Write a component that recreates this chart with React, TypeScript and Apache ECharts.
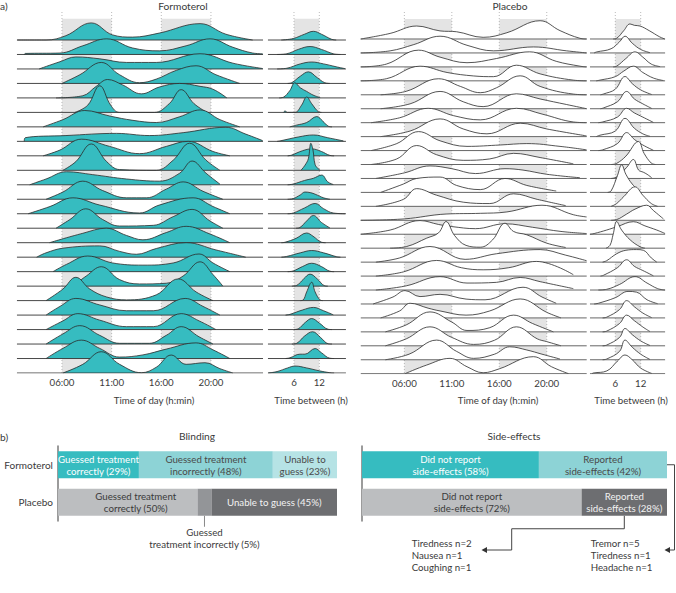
import React, { useEffect, useRef } from "react";
import * as echarts from "echarts";

// ---------- data ----------
const dayTicks = [6, 11, 16, 21];
const dayTickLabels = ["06:00", "11:00", "16:00", "20:00"];
const gapTicks = [6, 12];
const gapTickLabels = ["6", "12"];
const dayShade = [[6, 11], [16, 21]];
const gapShade = [[6, 12]];

// each row: [hour, density height (in row-spacing units)]
const formoterolDay: number[][][] = [
  [[1.5,0],[4.4,0],[6.4,0.3],[8.95,1.18],[11.1,0.35],[13.1,0.2],[15.8,0.48],[19.9,1.13],[22.5,0.4],[25.2,0]],
  [[2.2,0],[2.3,0.07],[5.8,0.1],[8.1,0.6],[10.5,1.08],[13.1,0.45],[15.8,0.25],[18.5,0.6],[20.9,1.08],[23.2,0.5],[25.2,0.1],[26.2,0.05]],
  [[3.7,0],[5.8,0.5],[7.4,0.83],[9.8,0.7],[12.5,0.45],[15.5,0.45],[19.9,1.05],[23.2,0.4],[26.2,0.03]],
  [[6.0,0],[7.8,0.6],[9.96,1.45],[11.8,0.6],[13.8,0.05],[15.5,0.3],[17.5,0.9],[19.5,1.22],[21.5,0.6],[23.9,0]],
  [[5.4,0],[8.1,0.15],[9.45,0.8],[10.6,1.27],[12.1,0.9],[14.0,0.28],[15.8,0.75],[17.85,1.0],[19.9,0.8],[21.2,0.6],[22.6,0]],
  [[7.3,0],[8.6,0.5],[9.8,1.84],[10.9,0.5],[11.8,0],[15.3,0],[16.8,0.6],[18.0,1.57],[19.3,0.6],[20.6,0]],
  [[4.1,0],[6.1,0.5],[8.3,1.13],[10.8,0.75],[13.15,0.45],[15.5,0.3],[17.85,0.7],[19.9,1.17],[21.9,0.5],[23.9,0]],
  [[2.2,0],[2.3,0.25],[6.4,0.4],[11.5,0.55],[14.8,0.4],[18.2,0.6],[22.5,0.97],[24.5,0.5],[26.2,0.05]],
  [[4.1,0],[5.8,0.4],[7.95,1.15],[10.8,0.65],[13.8,0.15],[16.5,0.65],[18.7,1.0],[21.2,0.3],[22.9,0]],
  [[6.1,0],[7.4,0.6],[8.95,1.82],[10.5,0.6],[11.8,0.05],[15.5,0],[17.2,0.7],[18.85,1.87],[20.5,0.7],[21.9,0]],
  [[2.75,0],[4.4,0.4],[6.45,0.9],[9.1,0.7],[12.5,0.4],[15.8,0.25],[17.85,0.8],[19.1,1.64],[20.5,0.8],[21.9,0.05]],
  [[4.4,0],[6.1,0.5],[8.1,1.25],[10.1,0.6],[12.5,0.1],[14.5,0.1],[16.5,0.7],[18.2,1.2],[20.2,0.55],[22.2,0]],
  [[2.6,0],[4.8,0.5],[7.1,1.1],[9.8,0.6],[13.8,0.05],[15.8,0.6],[19.2,1.1],[21.2,0.5],[22.9,0]],
  [[5.4,0],[6.8,0.6],[8.4,1.34],[10.1,0.6],[11.8,0.15],[15.2,0.2],[17.2,0.8],[19.1,1.3],[20.9,0.5],[22.2,0]],
  [[4.75,0],[8.1,0.65],[10.45,1.0],[12.5,0.5],[14.15,0.2],[16.5,0.7],[18.5,1.13],[20.9,0.6],[22.9,0]],
  [[3.45,0],[4.4,0.3],[6.1,0.62],[9.8,0.78],[11.8,0.4],[13.5,0.2],[15.5,0.6],[18.5,1.0],[21.5,0.5],[24.5,0]],
  [[5.1,0],[6.45,0.5],[8.6,1.08],[11.1,0.6],[14.15,0.45],[17.2,0.6],[19.8,1.22],[21.2,0.6],[22.9,0]],
  [[7.1,0],[8.45,0.7],[9.96,1.34],[11.8,0.45],[13.8,0.15],[16.5,0.2],[18.2,0.7],[19.9,1.68],[21.2,0.8],[22.2,0]],
  [[4.4,0],[6.1,0.8],[7.4,1.61],[8.8,0.8],[10.5,0.25],[12.5,0.05],[15.5,0.4],[17.7,1.5],[19.5,0.6],[21.2,0]],
  [[4.4,0],[5.8,0.6],[7.4,1.15],[9.8,0.7],[12.5,0.3],[15.2,0.3],[18.4,1.15],[20.2,0.6],[21.9,0]],
  [[4.4,0],[6.1,0.6],[7.6,1.1],[9.8,0.65],[12.5,0.2],[15.2,0.2],[18.0,1.1],[19.8,0.6],[21.5,0]],
  [[4.4,0],[6.1,0.7],[7.8,1.27],[9.8,0.6],[11.8,0.05],[14.8,0.05],[16.5,0.6],[18.0,1.2],[19.8,0.5],[21.2,0]],
  [[4.4,0],[6.1,0.7],[7.95,1.27],[9.8,0.7],[11.8,0.1],[14.15,0.25],[16.5,0.65],[19.5,1.08],[21.2,0.6],[22.9,0]],
  [[6.1,0],[8.1,0.6],[9.96,1.47],[11.8,0.6],[14.0,0.02],[15.5,0.4],[17.0,1.24],[18.5,0.6],[20.4,0.71],[21.9,0.3],[23.2,0]],
];

const formoterolGap: number[][][] = [
  [[3,0],[5.8,0.1],[8.5,0.4],[10.6,0.6],[12.5,0.4],[14.9,0.05],[16,0]],
  [[2,0],[4.3,0.05],[7,0.35],[9.8,0.55],[12.5,0.35],[15.3,0.05],[17,0]],
  [[2,0],[4.3,0.05],[7.5,0.35],[10.2,0.48],[13,0.35],[16,0.15],[18.1,0.02]],
  [[4.5,0],[5.45,0.05],[7.5,0.5],[9.4,0.8],[11.5,0.4],[13.3,0.05],[14.5,0]],
  [[2.5,0],[3.5,0.05],[5,0.5],[6.2,1.04],[7.5,0.7],[9.0,0.45],[10.5,0.2],[12.2,0.02]],
  [[3.5,0],[3.9,0.1],[4.4,0],[6.24,0],[7.8,0.5],[9.0,1.06],[10.2,0.6],[11.76,0.05],[12.5,0]],
  [[5,0],[6.6,0.12],[9,0.3],[11.4,0.71],[12.8,0.4],[14.1,0.05],[15,0]],
  [[2,0],[2.7,0.03],[7,0.3],[10.6,0.44],[14,0.25],[17.7,0.03]],
  [[4.5,0],[5.45,0.05],[8,0.35],[10.2,0.48],[12.5,0.3],[14.5,0.03],[15.5,0]],
  [[7.6,0],[7.8,0.05],[8.6,0.35],[9.4,0.8],[10.0,1.87],[10.5,1.4],[11.0,0.4],[11.76,0.1],[12.2,0]],
  [[4.5,0],[5.84,0.05],[8.5,0.3],[10.6,0.45],[12.55,0.67],[14.0,0.2],[15.3,0.02]],
  [[4.5,0],[5.84,0.05],[7.5,0.3],[8.6,0.5],[10,0.45],[11,0.35],[13,0.1],[14.5,0]],
  [[4.5,0],[5.84,0.05],[8.5,0.4],[11.0,0.71],[13,0.35],[15.3,0.05],[18.1,0]],
  [[6.5,0],[7.4,0.05],[9,0.5],[10.6,0.88],[12.5,0.4],[14.5,0.02]],
  [[3,0],[3.87,0.03],[6.5,0.3],[9.0,0.67],[10.5,0.45],[12.55,0.03],[13.5,0]],
  [[3,0],[4.26,0.05],[7.5,0.3],[10.2,0.46],[13,0.3],[16.1,0.03],[17,0]],
  [[4.5,0],[5.84,0.05],[8,0.35],[10.2,0.58],[12.5,0.35],[14.5,0.03],[15.5,0]],
  [[5.5,0],[6.63,0.05],[8.3,0.5],[9.8,0.83],[11.5,0.5],[13.3,0.02],[14,0]],
  [[7.5,0],[8.2,0.05],[9.0,0.6],[10.2,1.27],[11.0,0.6],[12.16,0.05],[12.8,0]],
  [[4,0],[5.05,0.05],[8,0.35],[10.6,0.53],[13,0.3],[15.3,0.02]],
  [[6,0],[7.0,0.05],[8.7,0.5],[10.2,0.76],[12,0.45],[14.1,0.02],[15,0]],
  [[5.5,0],[6.63,0.05],[8.5,0.55],[10.4,0.85],[12.3,0.45],[14.1,0.02],[15,0]],
  [[4,0],[5.05,0.05],[7.4,0.3],[8.6,0.3],[11.0,0.69],[12.5,0.4],[14.5,0.02],[15.5,0]],
  [[-0.1,0],[2,0.1],[4.5,0.35],[6.24,0.48],[9,0.35],[12,0.15],[14.5,0.02],[15.5,0]],
];

const placeboDay: number[][][] = [
  [[1.4,0],[4.5,0.4],[7.3,0.93],[9.76,0.58],[11.5,0.52],[14.3,0.12],[16.8,0.45],[20.3,1.31],[22.4,0.6],[24.5,0.05],[25.2,0]],
  [[1.4,0],[4.5,0.15],[7.0,0.6],[9.76,1.2],[12.6,0.55],[15.4,0.15],[19.6,0.43],[23.1,0.15],[25.2,0]],
  [[1.4,0],[4.1,0.2],[7.5,1.2],[9.76,0.7],[12.6,0.3],[15.7,0.6],[19.2,1.08],[22.0,0.4],[24.5,0.05],[25.2,0]],
  [[1.4,0],[4.1,0.15],[7.65,1.05],[10.5,0.6],[13.3,0.35],[15.4,0.3],[17.8,1.12],[20.3,0.5],[23.8,0.05],[25.2,0]],
  [[3.5,0],[6.2,0.25],[9.6,1.15],[11.9,0.6],[14.0,0.15],[15.7,0.5],[18.2,1.36],[20.3,0.6],[23.8,0.05],[25.2,0]],
  [[3.5,0],[6.6,0.35],[9.76,1.24],[12.2,0.5],[14.3,0.15],[17.8,1.07],[20.3,0.7],[23.1,0.3],[25.2,0]],
  [[2.5,0],[5.5,0.35],[8.5,1.03],[11.2,0.5],[14.0,0.2],[17.8,1.03],[20.6,0.6],[23.8,0.05],[25.2,0]],
  [[3.5,0],[6.6,0.4],[9.76,1.27],[12.2,0.55],[14.7,0.2],[18.2,0.96],[21.0,0.55],[25.2,0.05]],
  [[2.5,0],[5.2,0.5],[7.5,1.36],[9.76,0.7],[12.6,0.3],[16.1,0.4],[18.9,0.5],[22.4,0.3],[25.2,0.05]],
  [[2.5,0],[5.2,0.4],[7.3,1.36],[9.4,0.7],[12.2,0.3],[15.0,0.4],[17.5,0.8],[20.3,0.5],[23.8,0.05]],
  [[3,0],[6,0.4],[8.7,0.9],[11,0.7],[13.5,0.35],[16.6,0.7],[18.5,0.6],[21,0.3],[24.5,0.05]],
  [[3.5,0],[5.9,0.6],[7.3,1.0],[9.76,1.1],[11.5,0.5],[14.0,0.2],[16.6,1.0],[18.9,0.5],[22,0.1]],
  [[3,0],[5.9,0.5],[7.3,1.27],[9.4,0.8],[12.2,0.3],[15.0,0.2],[17.5,0.9],[20,0.5],[23,0.05]],
  [[1.4,0],[6,0.1],[10.4,0.45],[14,0.5],[16.8,0.6],[20.5,1.08],[23.8,0.4],[25.2,0.24]],
  [[1.4,0],[4.5,0.3],[7.65,0.98],[9.6,0.7],[11,0.55],[13.5,0.4],[16.6,0.75],[19.5,0.5],[22.5,0.2],[25.2,0.05]],
  [[4.5,0],[6.25,0.12],[8.35,0.72],[9.6,1.1],[10.39,1.91],[11.3,0.9],[12.5,0.2],[14.0,0.07],[15.3,0.6],[16.6,1.79],[17.5,1.2],[18.9,0.96],[21,0.36],[23,0.05]],
  [[3,0],[5.5,0.3],[8.7,1.12],[12.4,0.2],[15.7,0.6],[20.3,0.9],[23,0.5],[25.2,0.1]],
  [[3,0],[5.9,0.3],[9.4,1.12],[12,0.6],[14.3,0.45],[17,0.6],[19.9,1.05],[23.8,0.1]],
  [[3,0],[6.2,0.3],[9.76,0.96],[12.6,0.5],[15.7,0.55],[18.2,0.9],[20.3,0.6],[23.8,0.1]],
  [[2.7,0],[4.8,0.5],[6.07,0.96],[7.65,0.53],[9.76,0.69],[12.5,0.35],[14.5,0.3],[18.5,1.2],[20.5,0.5],[22,0.05]],
  [[3.5,0],[5.5,0.5],[6.6,1.05],[8.5,0.7],[9.76,0.5],[12.5,0.2],[15,0.5],[18.2,1.36],[21.0,0.4],[22.5,0]],
  [[4,0],[6.2,0.5],[8.7,1.43],[11,0.7],[12.6,0.1],[15,0.3],[17.5,1.2],[19.5,0.6],[21.7,0]],
  [[4,0],[6.2,0.5],[8.7,1.36],[11,0.6],[13.3,0.1],[15.5,0.4],[17.8,1.36],[20,0.5],[21.0,0.3],[22.5,0]],
  [[4,0],[6.5,0.4],[9.4,1.41],[11.5,0.6],[13.3,0.1],[15.5,0.4],[17.1,0.93],[18.9,0.7],[20.5,0.4],[22.4,0.05]],
  [[6.07,0],[8.35,0.62],[10.81,1.1],[12.6,0.5],[14.3,0.07],[16,0.35],[19.6,1.22],[21.5,0.5],[23.3,0]],
];

const placeboGap: number[][][] = [
  [[5.5,0],[6.32,0.05],[8,0.6],[9.47,1.08],[10.5,0.98],[11.84,0.93],[14,0.6],[16.5,0.15],[17.7,0]],
  [[1,0],[1.58,0.07],[5,0.3],[7,0.8],[8.29,1.2],[10,0.7],[12,0.25],[14.2,0.02]],
  [[5.5,0],[6.32,0.05],[8.5,0.6],[10.66,1.08],[12.5,0.7],[14.5,0.2],[16.58,0.02]],
  [[1.5,0],[2.37,0.05],[6,0.3],[8,0.7],[10.26,1.05],[12.5,0.6],[15,0.2],[17.37,0.02]],
  [[2.5,0],[3.16,0.05],[6,0.4],[8.29,1.31],[10,0.8],[12,0.35],[14.6,0.02]],
  [[2.5,0],[3.16,0.05],[6.5,0.5],[8.68,1.24],[10.5,0.7],[12.5,0.35],[14.6,0.02]],
  [[2,0],[3,0.05],[6.5,0.4],[8.68,1.03],[10.5,0.7],[12.5,0.4],[15,0.02]],
  [[1.5,0],[2.37,0.1],[6,0.4],[8.29,1.31],[10.5,0.6],[12.5,0.2],[14.2,0.02]],
  [[2,0],[3,0.05],[6.5,0.5],[8.68,1.29],[10.5,0.8],[12.5,0.4],[15,0.02]],
  [[5,0],[6.32,0.08],[8.5,0.6],[11.45,1.65],[12.8,0.8],[14.5,0.1],[15.5,0]],
  [[5,0],[6.32,0.1],[8.7,0.8],[10.26,1.36],[11.5,0.6],[12.6,0.45],[13.5,0.3],[14.6,0.05]],
  [[4.2,0],[5,0.1],[6.5,1.2],[7.5,1.98],[8.5,1.3],[10,0.6],[11.84,0.05]],
  [[5,0],[6.32,0.2],[8,0.7],[10.66,1.4],[12.5,0.8],[14.5,0.2],[16,0]],
  [[5,0],[6.32,0.05],[8.7,0.45],[10.66,0.8],[13.42,1.08],[15,0.7],[17.37,0.1]],
  [[0,0],[1,0.05],[3.95,0.3],[6.5,0.55],[10.26,0.9],[13,0.6],[15.8,0.3],[17.76,0.05]],
  [[3.8,0],[4.74,0.2],[5.5,1.0],[6.32,1.91],[7.5,1.3],[9.5,0.6],[11.84,0.1],[13,0]],
  [[3,0],[3.95,0.1],[6.32,0.6],[8.5,0.85],[11,0.9],[12.63,0.85],[14.5,0.3],[15.8,0]],
  [[2.5,0],[3.16,0.05],[6.5,0.6],[8.68,1.17],[10.5,0.7],[12.5,0.4],[15,0.02]],
  [[2,0],[3.95,0.05],[7,0.4],[10.66,0.96],[13.5,0.5],[16,0.1],[17.76,0]],
  [[1,0],[2,0.05],[6,0.45],[9,0.9],[11,0.85],[13.5,0.3],[16,0.02]],
  [[3,0],[3.95,0.05],[7,0.6],[8.68,1.24],[10.5,0.8],[12.5,0.35],[14.6,0.02]],
  [[3,0],[3.95,0.05],[7,0.6],[8.68,1.2],[10.5,0.8],[12.5,0.35],[14.2,0.02]],
  [[3,0],[3.95,0.05],[7,0.6],[8.29,1.24],[10,0.8],[12,0.35],[14.2,0.02]],
  [[3,0],[3.95,0.05],[7,0.6],[8.29,1.41],[10,0.9],[12,0.4],[14.2,0.02]],
  [[0.5,0],[0.8,0.05],[4,0.2],[6.5,0.9],[8.29,1.34],[10,1.0],[12,0.4],[14.6,0.02]],
];

const groups = ["Formoterol", "Placebo"];
const blindCorrect = [29, 50];
const blindIncorrect = [48, 5];
const blindUnable = [23, 45];
const sideNone = [58, 72];
const sideReported = [42, 28];
const formoterolEffects = ["Tremor n=5", "Tiredness n=1", "Headache n=1"];
const placeboEffects = ["Tiredness n=2", "Nausea n=1", "Coughing n=1"];

// ---------- styling ----------
const FONT = "Lato, 'Source Sans Pro', sans-serif";
const FS = 9.7;
const TEAL = "#36BCC0";
const TEAL_MID = "#8DD3D6";
const TEAL_LIGHT = "#B6E3E5";
const GREY_LIGHT = "#BCBEC0";
const GREY_MID = "#939598";
const GREY_DARK = "#6D6E71";
const TXT = "#3a3a3a";
const SHADE = "#e4e4e4";

const panels = [
  { rows: formoterolDay, fill: TEAL, base: "#333333", grid: { left: 12.3, top: 12, width: 253.3, height: 361 }, xMin: 1, xMax: 26.5, xInt: 5, yMax: 24.934, shadeTop: 24.47, span: [1.47, 26.24], shade: dayShade, ticks: dayTicks, labels: dayTickLabels },
  { rows: formoterolGap, fill: TEAL, base: "#333333", grid: { left: 243.3, top: 12, width: 126.7, height: 361 }, xMin: -6, xMax: 24, xInt: 6, yMax: 24.934, shadeTop: 24.47, span: [-0.16, 18.3], shade: gapShade, ticks: gapTicks, labels: gapTickLabels },
  { rows: placeboDay, fill: "#ffffff", base: "#555555", grid: { left: 356.9, top: 12, width: 237.3, height: 361.7 }, xMin: 1, xMax: 26, xInt: 5, yMax: 25.936, shadeTop: 25.43, span: [1.41, 25.21], shade: dayShade, ticks: dayTicks, labels: dayTickLabels },
  { rows: placeboGap, fill: "#ffffff", base: "#555555", grid: { left: 564.5, top: 12, width: 101.6, height: 361.7 }, xMin: -6, xMax: 18, xInt: 6, yMax: 25.936, shadeTop: 25.43, span: [0.02, 17.76], shade: gapShade, ticks: gapTicks, labels: gapTickLabels },
];

function buildOption() {
  const grid: any[] = [];
  const xAxis: any[] = [];
  const yAxis: any[] = [];
  const series: any[] = [];

  panels.forEach((p, pi) => {
    grid.push({ ...p.grid, containLabel: false });
    xAxis.push({
      type: "value", gridIndex: pi, min: p.xMin, max: p.xMax, interval: p.xInt,
      axisLine: { show: false }, axisTick: { show: false }, splitLine: { show: false },
      axisLabel: {
        margin: 4, fontSize: FS, fontFamily: FONT, color: TXT,
        formatter: (v: number) => { const i = p.ticks.indexOf(v); return i >= 0 ? p.labels[i] : ""; },
      },
    });
    yAxis.push({ type: "value", gridIndex: pi, min: 0, max: p.yMax, show: false, splitLine: { show: false } });

    series.push({
      type: "custom", xAxisIndex: pi, yAxisIndex: pi, z: 1, silent: true, clip: false,
      data: p.shade,
      renderItem: (params: any, api: any) => {
        const a = api.value(0), b = api.value(1);
        const tl = api.coord([a, p.shadeTop]);
        const br = api.coord([b, 0]);
        const topA = api.coord([a, p.yMax]);
        return {
          type: "group",
          children: [
            { type: "rect", shape: { x: tl[0], y: tl[1], width: br[0] - tl[0], height: br[1] - tl[1] }, style: { fill: SHADE } },
            { type: "line", shape: { x1: tl[0], y1: topA[1], x2: tl[0], y2: br[1] }, style: { stroke: "#a8a8a8", lineWidth: 0.8, lineDash: [1, 2] } },
            { type: "line", shape: { x1: br[0], y1: topA[1], x2: br[0], y2: br[1] }, style: { stroke: "#a8a8a8", lineWidth: 0.8, lineDash: [1, 2] } },
          ],
        };
      },
    });

    const n = p.rows.length;
    p.rows.forEach((row, k) => {
      const base = n - 1 - k;
      series.push({
        type: "line", xAxisIndex: pi, yAxisIndex: pi, z: 10 + k, silent: true,
        symbol: "none", smooth: 0.4,
        data: row.map(([x, h]) => [x, base + h]),
        lineStyle: { color: "#2a2a2a", width: 0.8 },
        areaStyle: { color: p.fill, opacity: 1, origin: base },
      });
      series.push({
        type: "line", xAxisIndex: pi, yAxisIndex: pi, z: 10 + k, silent: true,
        symbol: "none", data: [[p.span[0], base], [p.span[1], base]],
        lineStyle: { color: p.base, width: 0.9 },
      });
    });
  });

  // bar grids
  const barGrids = [
    { left: 58, top: 446, width: 279, height: 75, labels: true },
    { left: 362, top: 446, width: 305, height: 75, labels: false },
  ];
  barGrids.forEach((g, j) => {
    const gi = panels.length + j;
    grid.push({ left: g.left, top: g.top, width: g.width, height: g.height });
    xAxis.push({ type: "value", gridIndex: gi, min: 0, max: 100, show: false });
    yAxis.push({
      type: "category", gridIndex: gi, data: groups, inverse: true,
      axisLine: { show: true, lineStyle: { color: "#7a7a7a", width: 1.5 } },
      axisTick: { show: false },
      axisLabel: { show: g.labels, margin: 5, fontSize: FS + 0.3, fontFamily: FONT, color: TXT },
    });
  });

  const lbl = (text: string, color: string, show = true) => ({
    show, position: "inside", formatter: text, color, fontSize: FS, lineHeight: 11.8, fontFamily: FONT,
  });
  const bar = (gi: number, items: any[]) => ({
    type: "bar", xAxisIndex: gi, yAxisIndex: gi, stack: "s" + gi, barWidth: 27, silent: true, data: items,
  });
  const bi = panels.length, si = panels.length + 1;
  series.push(bar(bi, [
    { value: blindCorrect[0], itemStyle: { color: TEAL }, label: lbl(`Guessed treatment\ncorrectly (${blindCorrect[0]}%)`, "#ffffff") },
    { value: blindCorrect[1], itemStyle: { color: GREY_LIGHT }, label: { ...lbl(`Guessed treatment\ncorrectly (${blindCorrect[1]}%)`, TXT), offset: [8, 0] } },
  ]));
  series.push(bar(bi, [
    { value: blindIncorrect[0], itemStyle: { color: TEAL_MID }, label: lbl(`Guessed treatment\nincorrectly (${blindIncorrect[0]}%)`, "#4a4a4a") },
    { value: blindIncorrect[1], itemStyle: { color: GREY_MID }, label: lbl("", TXT, false) },
  ]));
  series.push(bar(bi, [
    { value: blindUnable[0], itemStyle: { color: TEAL_LIGHT }, label: lbl(`Unable to\nguess (${blindUnable[0]}%)`, "#4a4a4a") },
    { value: blindUnable[1], itemStyle: { color: GREY_DARK }, label: lbl(`Unable to guess (${blindUnable[1]}%)`, "#f2f2f2") },
  ]));
  series.push(bar(si, [
    { value: sideNone[0], itemStyle: { color: TEAL }, label: lbl(`Did not report\nside-effects (${sideNone[0]}%)`, "#ffffff") },
    { value: sideNone[1], itemStyle: { color: GREY_LIGHT }, label: lbl(`Did not report\nside-effects (${sideNone[1]}%)`, TXT) },
  ]));
  series.push(bar(si, [
    { value: sideReported[0], itemStyle: { color: TEAL_MID }, label: lbl(`Reported\nside-effects (${sideReported[0]}%)`, "#4a4a4a") },
    { value: sideReported[1], itemStyle: { color: GREY_DARK }, label: lbl(`Reported\nside-effects (${sideReported[1]}%)`, "#f2f2f2") },
  ]));

  return { animation: false, backgroundColor: "#ffffff", grid, xAxis, yAxis, series };
}

function text(x: number, y: number, t: string, align = "center", size = FS, color = TXT) {
  return {
    type: "text", x, y, silent: true, z: 100,
    style: { text: t, fill: color, fontSize: size, fontFamily: FONT, align, verticalAlign: "middle" },
  };
}

export default function App() {
  const ref = useRef<HTMLDivElement>(null);
  useEffect(() => {
    if (!ref.current) return;
    const chart = echarts.init(ref.current, null, { renderer: "svg" });
    chart.setOption(buildOption());

    const bi = panels.length, si = panels.length + 1;
    const half = 13.5;
    const pInc = chart.convertToPixel({ gridIndex: bi } as any, [blindCorrect[1] + blindIncorrect[1] / 2, 1]) as number[];
    const pPR = chart.convertToPixel({ gridIndex: si } as any, [sideNone[1] + sideReported[1] / 2, 1]) as number[];
    const pFR = chart.convertToPixel({ gridIndex: si } as any, [sideNone[0] + sideReported[0], 0]) as number[];
    const incBottom = pInc[1] + half;
    const prBottom = pPR[1] + half;
    const listY = 550;
    const stroke = { stroke: "#444", lineWidth: 1, fill: "none" };

    const elements: any[] = [
      text(0, 6, "a)", "left", 10.2),
      text(183, 6, "Formoterol", "center", 10.2),
      text(510, 6, "Placebo", "center", 10.2),
      text(154, 400, "Time of day (h:min)"),
      text(311, 400, "Time between (h)"),
      text(498, 400, "Time of day (h:min)"),
      text(631, 400, "Time between (h)"),
      text(0, 437, "b)", "left", 10.2),
      text(197, 436, "Blinding", "center", 10.2),
      text(514, 436, "Side-effects", "center", 10.2),
      { type: "line", silent: true, shape: { x1: pInc[0], y1: incBottom, x2: pInc[0], y2: incBottom + 11 }, style: { stroke: "#888", lineWidth: 1 } },
      text(pInc[0], incBottom + 16, "Guessed"),
      text(pInc[0], incBottom + 28, `treatment incorrectly (${blindIncorrect[1]}%)`),
      { type: "polyline", silent: true, shape: { points: [[pPR[0], prBottom], [pPR[0], prBottom + 13], [511.7, prBottom + 13], [511.7, listY], [486, listY]] }, style: stroke },
      { type: "polygon", silent: true, shape: { points: [[481.5, listY], [487, listY - 3], [487, listY + 3]] }, style: { fill: "#333" } },
      { type: "polyline", silent: true, shape: { points: [[pFR[0], pFR[1]], [pFR[0] + 7.5, pFR[1]], [pFR[0] + 7.5, listY], [669, listY]] }, style: stroke },
      { type: "polygon", silent: true, shape: { points: [[664.5, listY], [670, listY - 3], [670, listY + 3]] }, style: { fill: "#333" } },
    ];
    placeboEffects.forEach((t, i) => elements.push(text(411.7, 542.7 + i * 12, t, "left")));
    formoterolEffects.forEach((t, i) => elements.push(text(590.7, 542.7 + i * 12, t, "left")));
    chart.setOption({ graphic: { elements } });

    return () => chart.dispose();
  }, []);
  return <div ref={ref} style={{ position: "absolute", left: 0, top: 0, width: 676, height: 593, background: "#fff" }} />;
}
